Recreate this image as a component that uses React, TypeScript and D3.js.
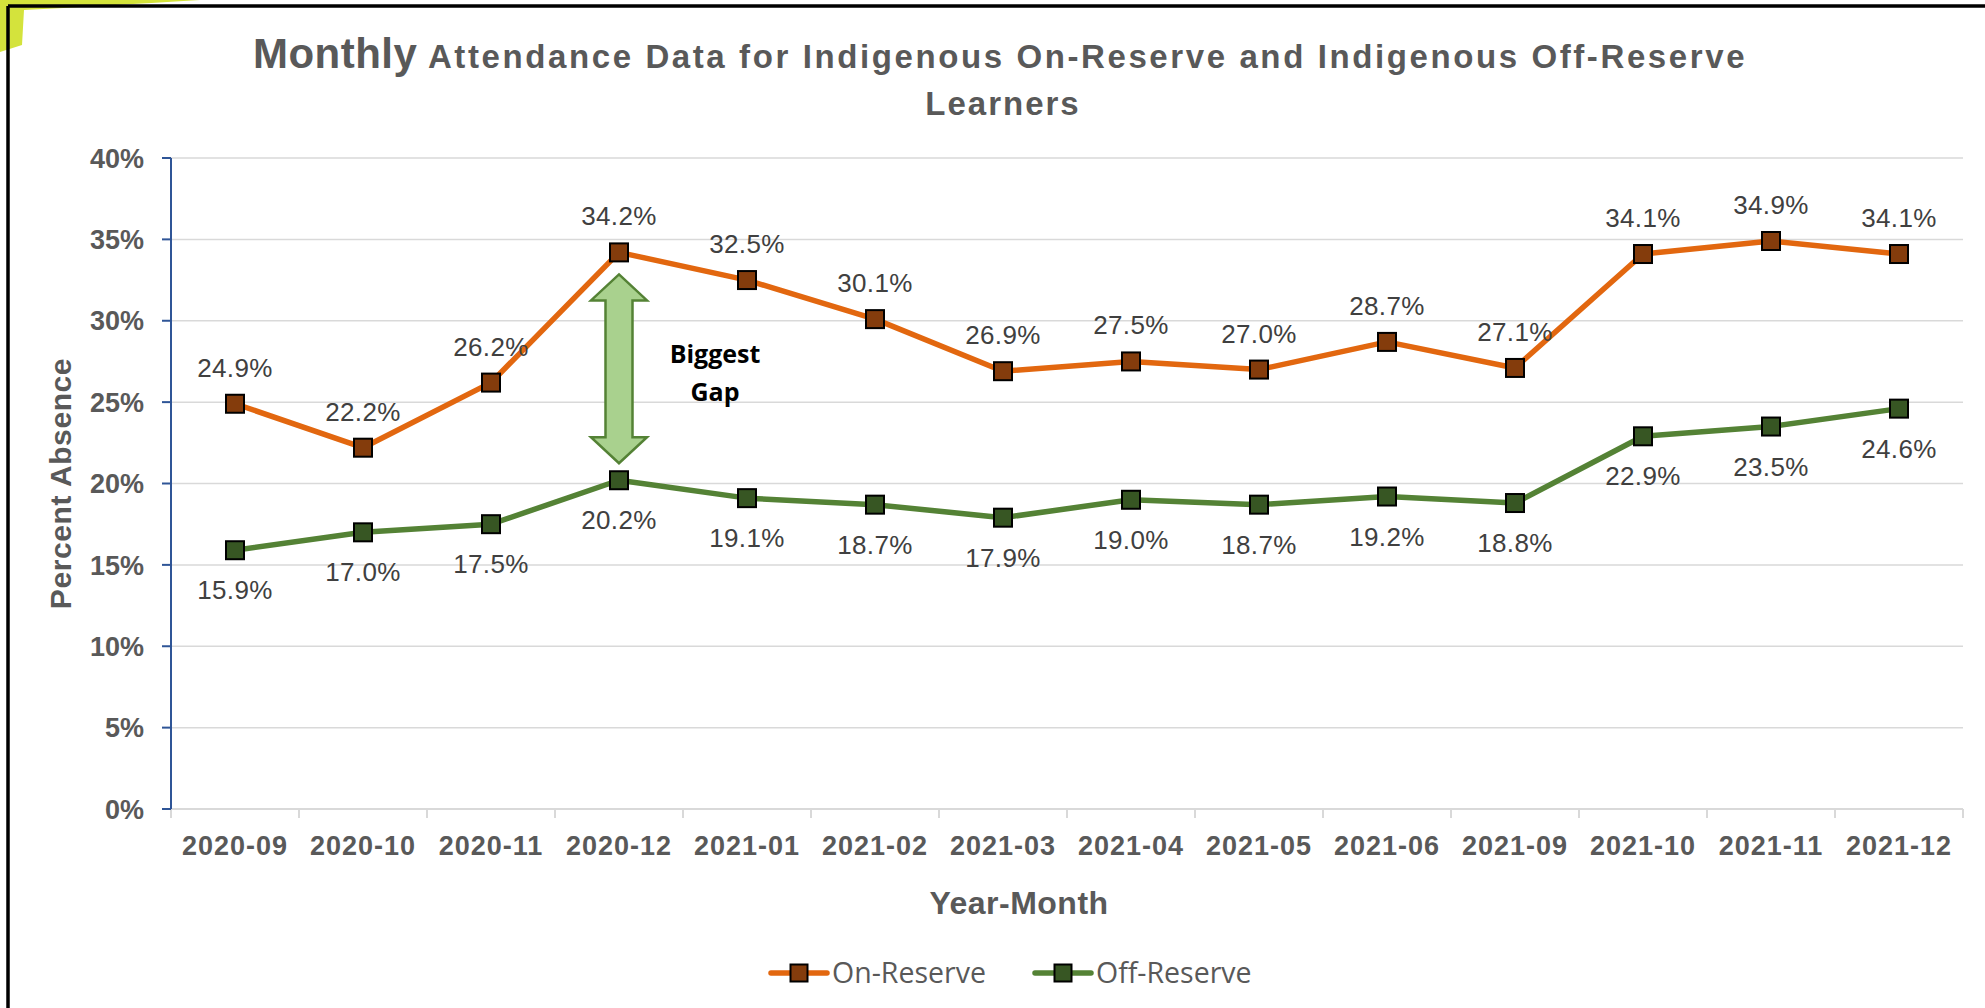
import React, { useEffect } from "react";
import * as d3 from "d3";

const months = [
  "2020-09", "2020-10", "2020-11", "2020-12", "2021-01", "2021-02", "2021-03",
  "2021-04", "2021-05", "2021-06", "2021-09", "2021-10", "2021-11", "2021-12",
];
const onReserve = [24.9, 22.2, 26.2, 34.2, 32.5, 30.1, 26.9, 27.5, 27.0, 28.7, 27.1, 34.1, 34.9, 34.1];
const offReserve = [15.9, 17.0, 17.5, 20.2, 19.1, 18.7, 17.9, 19.0, 18.7, 19.2, 18.8, 22.9, 23.5, 24.6];
const yTicks = [0, 5, 10, 15, 20, 25, 30, 35, 40];
const gapMonth = "2020-12";

const W = 1985;
const H = 1008;
const plot = { left: 171, right: 1963, top: 158, bottom: 809 };

const FONT = "'Liberation Sans', Arial, sans-serif";
const GREY = "#595959";

export default function App() {
  useEffect(() => {
    document.body.style.margin = "0";
  }, []);

  const x = d3.scaleBand<string>().domain(months).range([plot.left, plot.right]);
  const y = d3.scaleLinear().domain([0, 40]).range([plot.bottom, plot.top]);
  const cx = (m: string) => (x(m) ?? 0) + x.bandwidth() / 2;

  const line = d3
    .line<number>()
    .x((_, i) => cx(months[i]))
    .y((d) => y(d));

  const series = [
    { name: "On-Reserve", values: onReserve, line: "#E2670F", marker: "#843C0C", above: true },
    { name: "Off-Reserve", values: offReserve, line: "#548235", marker: "#375623", above: false },
  ];

  const boundaries = months.map((m) => x(m) ?? 0).concat([plot.right]);

  // double arrow for "Biggest Gap"
  const gi = months.indexOf(gapMonth);
  const ax = cx(gapMonth);
  const aTop = y(onReserve[gi]) + 22;
  const aBot = y(offReserve[gi]) - 17;
  const headH = 26;
  const headW = 28;
  const shaftW = 13.5;
  const arrow = [
    [ax, aTop],
    [ax + headW, aTop + headH],
    [ax + shaftW, aTop + headH],
    [ax + shaftW, aBot - headH],
    [ax + headW, aBot - headH],
    [ax, aBot],
    [ax - headW, aBot - headH],
    [ax - shaftW, aBot - headH],
    [ax - shaftW, aTop + headH],
    [ax - headW, aTop + headH],
  ];

  const ms = 18;

  return (
    <svg width={W} height={H} style={{ position: "absolute", left: 0, top: 0, background: "#fff" }}>
      {/* corner decoration + frame */}
      <path d="M0,0 L200,0 Q100,6 24,10 L22,45 L0,52 Z" fill="#D4E33C" />
      <line x1={8} y1={6} x2={W} y2={6} stroke="#000" strokeWidth={3.5} />
      <line x1={8} y1={6} x2={8} y2={H} stroke="#000" strokeWidth={3.5} />

      {/* title */}
      <text x={1000} y={68} textAnchor="middle" fontFamily={FONT} fontWeight="bold" fill={GREY}>
        <tspan fontSize={42} letterSpacing={0.5}>Monthly</tspan>
        <tspan fontSize={33} letterSpacing={2.6}> Attendance Data for Indigenous On-Reserve and Indigenous Off-Reserve</tspan>
      </text>
      <text x={1003} y={115} textAnchor="middle" fontFamily={FONT} fontWeight="bold" fontSize={33} letterSpacing={2} fill={GREY}>
        Learners
      </text>

      {/* gridlines */}
      {yTicks.map((t) => (
        <line key={t} x1={plot.left} x2={plot.right} y1={y(t)} y2={y(t)} stroke="#D9D9D9" strokeWidth={1.5} />
      ))}

      {/* x axis */}
      <line x1={plot.left} x2={plot.right} y1={plot.bottom} y2={plot.bottom} stroke="#D9D9D9" strokeWidth={2} />
      {boundaries.map((b, i) => (
        <line key={i} x1={b} x2={b} y1={plot.bottom} y2={plot.bottom + 9} stroke="#D9D9D9" strokeWidth={2} />
      ))}
      {months.map((m) => (
        <text key={m} x={cx(m)} y={855} textAnchor="middle" fontFamily={FONT} fontWeight="bold" fontSize={27} letterSpacing={1} fill={GREY}>
          {m}
        </text>
      ))}
      <text x={1019} y={914} textAnchor="middle" fontFamily={FONT} fontWeight="bold" fontSize={32} letterSpacing={0.5} fill={GREY}>
        Year-Month
      </text>

      {/* y axis */}
      <line x1={plot.left} x2={plot.left} y1={plot.top} y2={plot.bottom} stroke="#2F5597" strokeWidth={2} />
      {yTicks.map((t) => (
        <g key={t}>
          <line x1={plot.left - 9} x2={plot.left} y1={y(t)} y2={y(t)} stroke="#2F5597" strokeWidth={2} />
          <text x={144} y={y(t)} dy="0.36em" textAnchor="end" fontFamily={FONT} fontWeight="bold" fontSize={27} fill={GREY}>
            {t}%
          </text>
        </g>
      ))}
      <text
        transform={`translate(71,${(plot.top + plot.bottom) / 2}) rotate(-90)`}
        textAnchor="middle"
        fontFamily={FONT}
        fontWeight="bold"
        fontSize={30}
        letterSpacing={0.6}
        fill={GREY}
      >
        Percent Absence
      </text>

      {/* arrow annotation */}
      <polygon points={arrow.map((p) => p.join(",")).join(" ")} fill="#A9D18E" stroke="#548235" strokeWidth={2.5} strokeLinejoin="miter" />
      <text x={715} y={363} textAnchor="middle" fontFamily="'Open Sans', sans-serif" fontWeight="bold" fontSize={25} fill="#000">
        Biggest
      </text>
      <text x={715} y={401} textAnchor="middle" fontFamily="'Open Sans', sans-serif" fontWeight="bold" fontSize={25} fill="#000">
        Gap
      </text>

      {/* series */}
      {series.map((s) => (
        <g key={s.name}>
          <path d={line(s.values) ?? ""} fill="none" stroke={s.line} strokeWidth={5.5} strokeLinejoin="round" />
          {s.values.map((v, i) => (
            <rect
              key={i}
              x={cx(months[i]) - ms / 2}
              y={y(v) - ms / 2}
              width={ms}
              height={ms}
              fill={s.marker}
              stroke="#000"
              strokeWidth={2}
            />
          ))}
          {s.values.map((v, i) => (
            <text
              key={"l" + i}
              x={cx(months[i])}
              y={s.above ? y(v) - 27 : y(v) + 49}
              textAnchor="middle"
              fontFamily={FONT}
              fontSize={26}
              letterSpacing={0.4}
              fill="#404040"
            >
              {v.toFixed(1)}%
            </text>
          ))}
        </g>
      ))}

      {/* legend */}
      {series.map((s, i) => {
        const lx = i === 0 ? 771 : 1035;
        return (
          <g key={s.name}>
            <line x1={lx} x2={lx + 56} y1={973} y2={973} stroke={s.line} strokeWidth={5.5} strokeLinecap="round" />
            <rect x={lx + 28 - 8.5} y={973 - 8.5} width={17} height={17} fill={s.marker} stroke="#000" strokeWidth={2} />
            <text x={lx + 61} y={983} fontFamily="'Open Sans', sans-serif" fontSize={28.5} fill={GREY}>
              {s.name}
            </text>
          </g>
        );
      })}
    </svg>
  );
}
